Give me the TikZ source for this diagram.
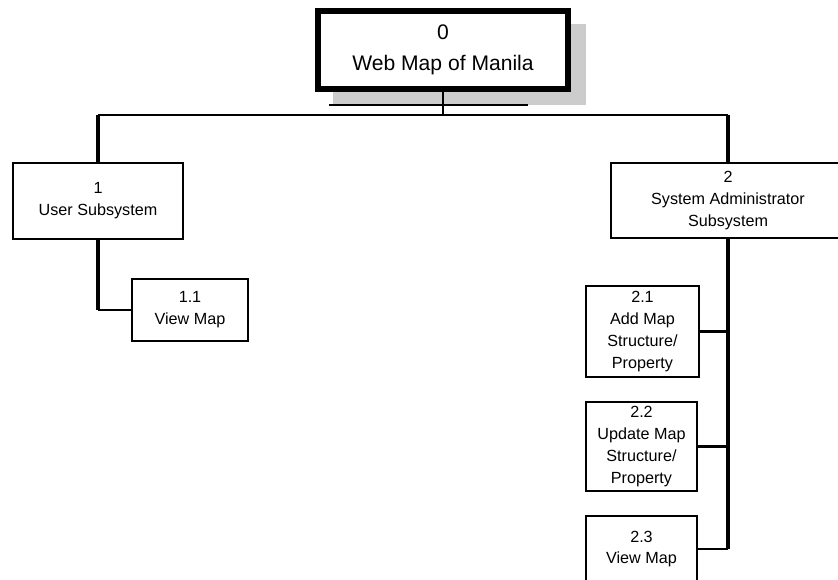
\documentclass[tikz,border=0pt]{standalone}
\usepackage{fontspec}
\setmainfont{Liberation Sans}
\usepackage{tikz}

\begin{document}
\begin{tikzpicture}[x=.25mm,y=-.25mm]
	\tikzstyle{every node}=[rectangle, inner sep=0pt, align=center, font=\fontsize{11.5}{15.5}\selectfont]
	\tikzstyle{proc}=[draw, line width=.8pt, fill=white]
	\tikzstyle{mainproc}=[draw, line width=4pt, fill=white, minimum width=62.5mm, minimum height=19.5mm, font=\fontsize{15}{22.5}\selectfont]
	\tikzstyle{vline}=[line width=2.4pt]
	\tikzstyle{hline}=[line width=1.7pt]
	\useasboundingbox (0,0) rectangle (838,580);
	\clip (0,0) rectangle (838,580);
	% shadow of the top box
	\fill[gray!40] (333,24) rectangle (586,105);
	\draw[hline] (329,105) -- (528,105);
	\draw (443,50) node (p0) [mainproc] {0\\Web Map of Manila};
	\draw (98,201) node (p1) [proc, minimum width=42.5mm, minimum height=19mm] {1\\User Subsystem};
	\draw (728,200.5) node (p2) [proc, minimum width=58.5mm, minimum height=18.75mm] {2\\System Administrator\\Subsystem};
	\draw (190,310) node (p11) [proc, minimum width=29mm, minimum height=15.5mm] {1.1\\View Map};
	\draw (642.5,331.5) node (p21) [proc, minimum width=28.25mm, minimum height=22.75mm] {2.1\\Add Map\\Structure/\\Property};
	\draw (641.5,446.5) node (p22) [proc, minimum width=27.75mm, minimum height=22.25mm] {2.2\\Update Map\\Structure/\\Property};
	\draw (641.5,549) node (p23) [proc, minimum width=27.75mm, minimum height=16.5mm] {2.3\\View Map};
	\coordinate (bus) at (443,115);
	\draw[hline] (p0.south) -- (bus);
	\draw[hline] (p1.north |- bus) -- (p2.north |- bus);
	\draw[vline] (p1.north) -- (p1.north |- bus);
	\draw[vline] (p2.north) -- (p2.north |- bus);
	\draw[vline] (p1.south) -- (p1.south |- p11.west);
	\draw[hline] (p1.south |- p11.west) -- (p11.west);
	\draw[vline] (p2.south) -- (p2.south |- p23.east);
	\draw[hline] (p21.east) -- (p21.east -| p2.south);
	\draw[hline] (p22.east) -- (p22.east -| p2.south);
	\draw[hline] (p23.east) -- (p23.east -| p2.south);
\end{tikzpicture}
\end{document}
